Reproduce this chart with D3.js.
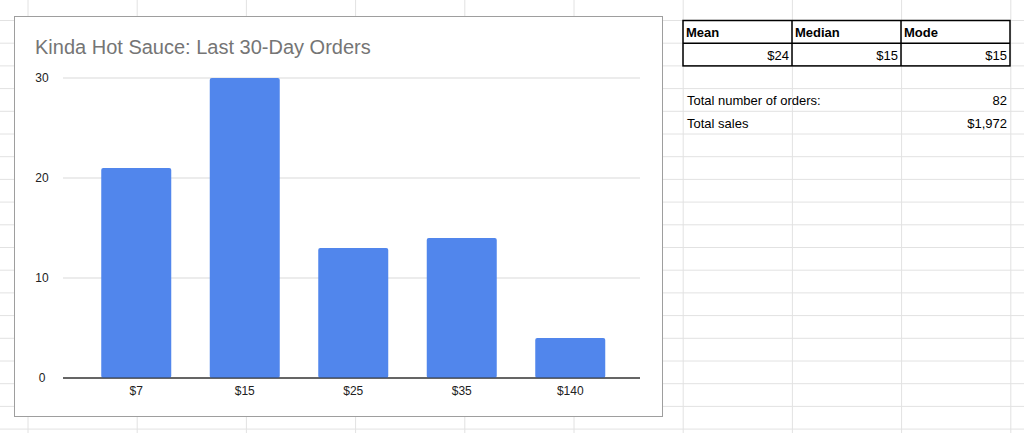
<!DOCTYPE html>
<html><head><meta charset="utf-8">
<script src="https://cdn.jsdelivr.net/npm/d3@7"></script>
<style>body{margin:0;background:#fff}svg{display:block;font-family:"Liberation Sans",Arial,sans-serif}</style>
</head><body><svg id="c" width="1024" height="433"></svg>
<script>
var categories = ["$7", "$15", "$25", "$35", "$140"];
var orders = [21, 30, 13, 14, 4];
var yTicks = [0, 10, 20, 30];
var statHeaders = ["Mean", "Median", "Mode"];
var statValues = ["$24", "$15", "$15"];
var summaryLabels = ["Total number of orders:", "Total sales"];
var summaryValues = ["82", "$1,972"];

var svg = d3.select('#c');

// spreadsheet grid
var colLines = d3.range(28, 1024, 109.2);
var rowLines = d3.range(20.5, 433, 22.7);
svg.selectAll('.vl').data(colLines).enter().append('line')
  .attr('x1', d => d).attr('x2', d => d).attr('y1', 0).attr('y2', 433)
  .attr('stroke', '#e2e2e2');
svg.selectAll('.hl').data(rowLines).enter().append('line')
  .attr('x1', 0).attr('x2', 1024).attr('y1', d => d).attr('y2', d => d)
  .attr('stroke', '#e2e2e2');

// chart box
svg.append('rect').attr('x', 14.5).attr('y', 16.5).attr('width', 648).attr('height', 400)
  .attr('fill', '#fff').attr('stroke', '#9e9e9e');
svg.append('text').attr('x', 35).attr('y', 54).attr('font-size', 20).attr('fill', '#757575')
  .text('Kinda Hot Sauce: Last 30-Day Orders');

var x = d3.scaleBand().domain(categories).range([82, 624.5]);
var y = d3.scaleLinear().domain([0, 30]).range([378, 78]);
var barW = 70;

svg.selectAll('.grid').data(yTicks).enter().append('line')
  .attr('x1', 63).attr('x2', 640).attr('y1', d => y(d)).attr('y2', d => y(d))
  .attr('stroke', d => d === 0 ? '#333' : '#d9d9d9');
svg.selectAll('.yl').data(yTicks).enter().append('text')
  .attr('x', 42).attr('y', d => y(d) + 4).attr('text-anchor', 'middle')
  .attr('font-size', 12).attr('fill', '#222').text(d => d);

svg.selectAll('.bar').data(orders).enter().append('rect')
  .attr('x', (d, i) => x(categories[i]) + x.bandwidth() / 2 - barW / 2)
  .attr('y', d => y(d)).attr('width', barW).attr('height', d => y(0) - y(d))
  .attr('rx', 2).attr('fill', '#5186ec');
svg.append('line').attr('x1', 63).attr('x2', 640).attr('y1', y(0)).attr('y2', y(0)).attr('stroke', '#333');
svg.selectAll('.xl').data(categories).enter().append('text')
  .attr('x', d => x(d) + x.bandwidth() / 2).attr('y', 395).attr('text-anchor', 'middle')
  .attr('font-size', 12).attr('fill', '#222').text(d => d);

// stats table
var tx = [683, 792, 901, 1010];
var tb = svg.append('g');
tb.append('rect').attr('x', tx[0]).attr('y', 20.5).attr('width', tx[3] - tx[0]).attr('height', 45.4)
  .attr('fill', 'none').attr('stroke', '#000').attr('stroke-width', 1.5);
tb.append('line').attr('x1', tx[0]).attr('x2', tx[3]).attr('y1', 43.2).attr('y2', 43.2).attr('stroke', '#000').attr('stroke-width', 1.5);
[1, 2].forEach(function(i) {
  tb.append('line').attr('x1', tx[i]).attr('x2', tx[i]).attr('y1', 20.5).attr('y2', 65.9).attr('stroke', '#000').attr('stroke-width', 1.5);
});
statHeaders.forEach(function(h, i) {
  tb.append('text').attr('x', tx[i] + 3).attr('y', 37).attr('font-size', 13).attr('font-weight', 'bold').text(h);
  tb.append('text').attr('x', tx[i + 1] - 3).attr('y', 60).attr('font-size', 13).attr('text-anchor', 'end').text(statValues[i]);
});
summaryLabels.forEach(function(l, i) {
  tb.append('text').attr('x', tx[0] + 4).attr('y', 105 + i * 22.7).attr('font-size', 13).text(l);
  tb.append('text').attr('x', tx[3] - 3).attr('y', 105 + i * 22.7).attr('font-size', 13).attr('text-anchor', 'end').text(summaryValues[i]);
});
</script></body></html>
